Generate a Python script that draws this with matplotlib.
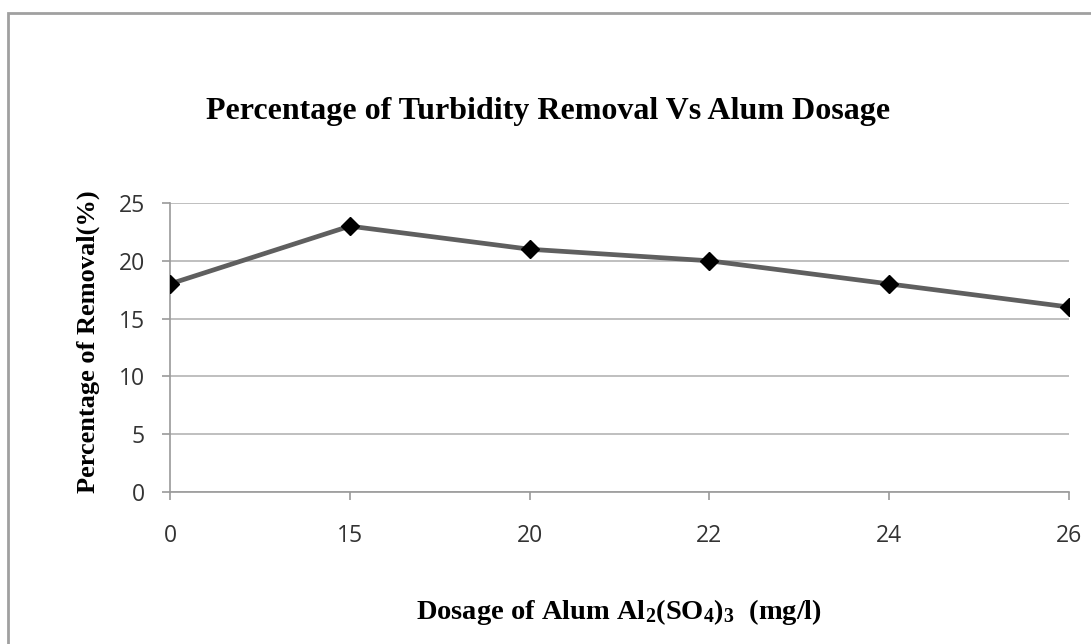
import matplotlib
matplotlib.use("Agg")
import matplotlib.pyplot as plt
from matplotlib.patches import Rectangle
import numpy as np

# data
dosage = ["0", "15", "20", "22", "24", "26"]
removal = [18, 23, 21, 20, 18, 16]
yticks = [0, 5, 10, 15, 20, 25]

W, H = 1091, 644

plt.rcParams["mathtext.default"] = "regular"


def plot_removal(ax):
    x = np.arange(len(dosage))
    ax.plot(x, removal,
            color = "#5f5f5f", lw = 3.4,
            marker = "D", markersize = 9.5,
            markerfacecolor = "black", markeredgecolor = "black",
            zorder = 3)

    ax.set_xlim(0, len(dosage) - 1)
    ax.set_ylim(0, 25)
    ax.set_xticks(x)
    ax.set_xticklabels(dosage)
    ax.set_yticks(yticks)

    ax.yaxis.grid(True, color = "#b4b4b4", lw = 1.2)
    ax.set_axisbelow(True)

    for side in ["top", "right"]:
        ax.spines[side].set_visible(False)
    for side in ["left", "bottom"]:
        ax.spines[side].set_color("#9a9a9a")
        ax.spines[side].set_linewidth(1.2)

    ax.tick_params(axis = "both", direction = "out", length = 6,
                   width = 1.2, color = "#9a9a9a",
                   labelcolor = "#333333", labelsize = 16.5)
    ax.tick_params(axis = "x", pad = 17)
    ax.tick_params(axis = "y", pad = 12)
    for lab in ax.get_xticklabels() + ax.get_yticklabels():
        lab.set_family("Open Sans")
    return ax


def make_figure():
    fig = plt.figure(figsize = (W / 100, H / 100), dpi = 100)
    ax = fig.add_axes([170 / W, 1 - 492 / H, (1069 - 170) / W, (492 - 203) / H])
    plot_removal(ax)

    # outer chart border (runs off the right and bottom edges)
    fig.patches.append(Rectangle(
        (8 / W, -0.05), 1.1, 1 - 13 / H + 0.05,
        transform = fig.transFigure, fill = False,
        edgecolor = "#a0a0a0", lw = 2))

    serif = dict(family = "Liberation Serif", weight = "bold", color = "black")
    fig.text(548 / W, 1 - 112 / H,
             "Percentage of Turbidity Removal Vs Alum Dosage",
             ha = "center", va = "center", fontsize = 23, **serif)
    fig.text(88 / W, 1 - 342 / H, "Percentage of Removal(%)",
             rotation = 90, ha = "center", va = "center",
             fontsize = 19, **serif)
    fig.text(619 / W, 1 - 612 / H,
             "Dosage of Alum Al$_2$(SO$_4$)$_3$  (mg/l)",
             ha = "center", va = "center", fontsize = 20.5, **serif)
    return fig


fig = make_figure()
fig.savefig("out.png", dpi = 100)
